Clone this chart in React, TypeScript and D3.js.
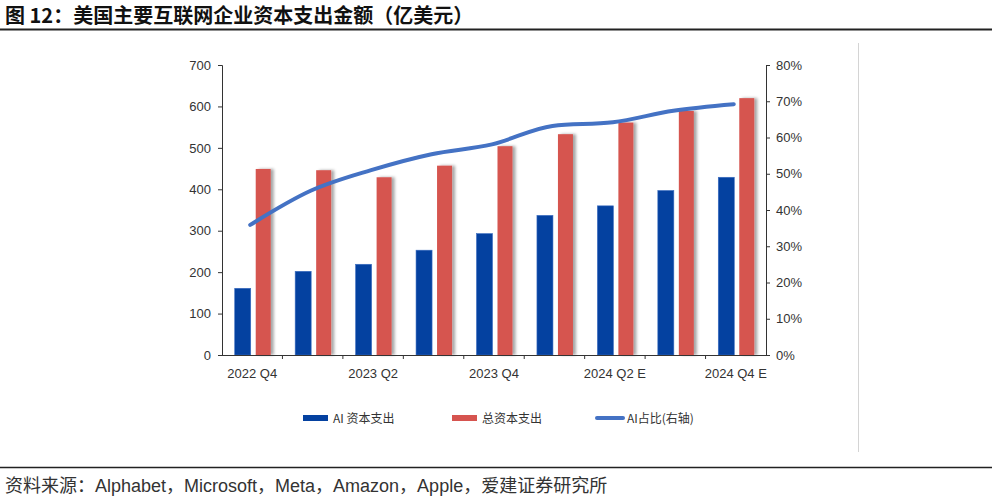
import * as d3 from "d3";
import { useEffect, useRef } from "react";

const categories = [
  "2022 Q4",
  "2023 Q1",
  "2023 Q2",
  "2023 Q3",
  "2023 Q4",
  "2024 Q1",
  "2024 Q2 E",
  "2024 Q3 E",
  "2024 Q4 E",
];
const shownLabels = ["2022 Q4", "2023 Q2", "2023 Q4", "2024 Q2 E", "2024 Q4 E"];
const aiCapex = [161, 202, 219, 253, 293, 337, 360, 397, 429];
const totalCapex = [449, 446, 429, 457, 504, 533, 561, 589, 620];
const aiShare = [0.359, 0.453, 0.51, 0.554, 0.581, 0.632, 0.642, 0.674, 0.692];
const leftTicks = [0, 100, 200, 300, 400, 500, 600, 700];
const rightTicks = [0, 0.1, 0.2, 0.3, 0.4, 0.5, 0.6, 0.7, 0.8];

const BLUE = "#0441A0";
const RED = "#D6544F";
const LINE = "#4472C4";
const FONT = "'Liberation Sans', Arial, 'Noto Sans CJK SC', sans-serif";
const CJK = "'Noto Sans CJK SC', 'Liberation Sans', sans-serif";

export default function App() {
  const svgRef = useRef<SVGSVGElement | null>(null);

  useEffect(() => {
    if (!svgRef.current) return;
    const svg = d3.select(svgRef.current);
    svg.selectAll("*").remove();

    const width = 998;
    const height = 500;
    const margin = { top: 65, right: 232, bottom: 145, left: 222 };
    const x0 = margin.left;
    const x1 = width - margin.right;
    const y0 = height - margin.bottom;
    const y1 = margin.top;

    const defs = svg.append("defs");
    const f = defs
      .append("filter")
      .attr("id", "shadow")
      .attr("x", "-30%")
      .attr("y", "-10%")
      .attr("width", "180%")
      .attr("height", "120%");
    f.append("feDropShadow")
      .attr("dx", 3)
      .attr("dy", 0)
      .attr("stdDeviation", 1.8)
      .attr("flood-color", "#000")
      .attr("flood-opacity", 0.35);

    // title
    svg
      .append("text")
      .attr("x", 5)
      .attr("y", 23)
      .attr("font-family", CJK)
      .attr("font-size", 20)
      .attr("font-weight", "bold")
      .attr("fill", "#111")
      .text("图 12：美国主要互联网企业资本支出金额（亿美元）");
    svg
      .append("line")
      .attr("x1", 0)
      .attr("x2", 992)
      .attr("y1", 29.5)
      .attr("y2", 29.5)
      .attr("stroke", "#222")
      .attr("stroke-width", 2);

    // frame edge on the right
    svg
      .append("line")
      .attr("x1", 858.5)
      .attr("x2", 858.5)
      .attr("y1", 43)
      .attr("y2", 452)
      .attr("stroke", "#d4d4d4")
      .attr("stroke-width", 1);

    const x = d3.scaleBand<string>().domain(categories).range([x0, x1]).padding(0);
    const y = d3.scaleLinear().domain([0, 700]).range([y0, y1]);
    const yr = d3.scaleLinear().domain([0, 0.8]).range([y0, y1]);

    const bw = x.bandwidth();
    const barW = 16;
    const gap = 5;

    // bars
    svg
      .append("g")
      .selectAll("rect")
      .data(categories)
      .join("rect")
      .attr("x", (d) => x(d)! + bw / 2 - barW - gap / 2 + 1)
      .attr("y", (_, i) => y(aiCapex[i]))
      .attr("width", barW)
      .attr("height", (_, i) => y0 - y(aiCapex[i]))
      .attr("fill", BLUE)
      .attr("stroke", "#3a6cc0")
      .attr("stroke-width", 0.6);

    svg
      .append("g")
      .selectAll("rect")
      .data(categories)
      .join("rect")
      .attr("x", (d) => x(d)! + bw / 2 + gap / 2 + 1)
      .attr("y", (_, i) => y(totalCapex[i]))
      .attr("width", barW - 1)
      .attr("height", (_, i) => y0 - y(totalCapex[i]))
      .attr("fill", RED)
      .attr("filter", "url(#shadow)");

    // axes
    const axisG = svg.append("g").attr("font-family", FONT);

    const left = axisG
      .append("g")
      .attr("transform", `translate(${x0},0)`)
      .call(d3.axisLeft(y).tickValues(leftTicks).tickSize(4).tickPadding(7));
    const right = axisG
      .append("g")
      .attr("transform", `translate(${x1},0)`)
      .call(
        d3
          .axisRight(yr)
          .tickValues(rightTicks)
          .tickSize(4)
          .tickPadding(6)
          .tickFormat((d) => `${Math.round((d as number) * 100)}%`)
      );
    const bottom = axisG
      .append("g")
      .attr("transform", `translate(0,${y0})`)
      .call(
        d3
          .axisBottom(x)
          .tickSize(0)
          .tickPadding(14)
          .tickFormat((d) => (shownLabels.includes(d) ? d : ""))
      );
    // category boundary ticks
    axisG
      .append("g")
      .selectAll("line")
      .data(categories.slice(1))
      .join("line")
      .attr("x1", (d) => x(d)!)
      .attr("x2", (d) => x(d)!)
      .attr("y1", y0)
      .attr("y2", y0 + 4)
      .attr("stroke", "#333");

    [left, right, bottom].forEach((g) => {
      g.selectAll("text").attr("fill", "#333").attr("font-size", 13).attr("font-family", FONT);
      g.selectAll("path").attr("stroke", "#333");
      g.selectAll("line").attr("stroke", "#333");
    });
    bottom.select(".domain").attr("d", `M${x0},0.5H${x1}`);

    // share line
    const line = d3
      .line<number>()
      .x((_, i) => x(categories[i])! + bw / 2 - 2)
      .y((d) => yr(d))
      .curve(d3.curveMonotoneX);
    svg
      .append("path")
      .datum(aiShare)
      .attr("fill", "none")
      .attr("stroke", LINE)
      .attr("stroke-width", 4)
      .attr("stroke-linecap", "round")
      .attr("d", line);

    // legend
    const lg = svg.append("g").attr("font-family", CJK).attr("font-size", 12).attr("fill", "#333");
    const items = [
      { label: "AI 资本支出", x: 303, type: "bar", color: BLUE },
      { label: "总资本支出", x: 452, type: "bar", color: RED },
      { label: "AI占比(右轴)", x: 596, type: "line", color: LINE },
    ];
    items.forEach((it) => {
      if (it.type === "bar") {
        lg.append("rect")
          .attr("x", it.x)
          .attr("y", 415)
          .attr("width", 25)
          .attr("height", 6)
          .attr("fill", it.color);
      } else {
        lg.append("line")
          .attr("x1", it.x + 1)
          .attr("x2", it.x + 27)
          .attr("y1", 418)
          .attr("y2", 418)
          .attr("stroke", it.color)
          .attr("stroke-width", 4)
          .attr("stroke-linecap", "round");
      }
      lg.append("text")
        .attr("x", it.x + (it.type === "bar" ? 30 : 31))
        .attr("y", 422.5)
        .text(it.label);
    });

    // source
    svg
      .append("line")
      .attr("x1", 0)
      .attr("x2", 992)
      .attr("y1", 467.5)
      .attr("y2", 467.5)
      .attr("stroke", "#222")
      .attr("stroke-width", 1.6);
    svg
      .append("text")
      .attr("x", 5)
      .attr("y", 492)
      .attr("font-family", FONT)
      .attr("font-size", 18)
      .attr("fill", "#333")
      .text("资料来源：Alphabet，Microsoft，Meta，Amazon，Apple，爱建证券研究所");
  }, []);

  return (
    <svg
      ref={svgRef}
      width={998}
      height={500}
      viewBox="0 0 998 500"
      style={{ position: "absolute", left: 0, top: 0, background: "#fff" }}
    />
  );
}
